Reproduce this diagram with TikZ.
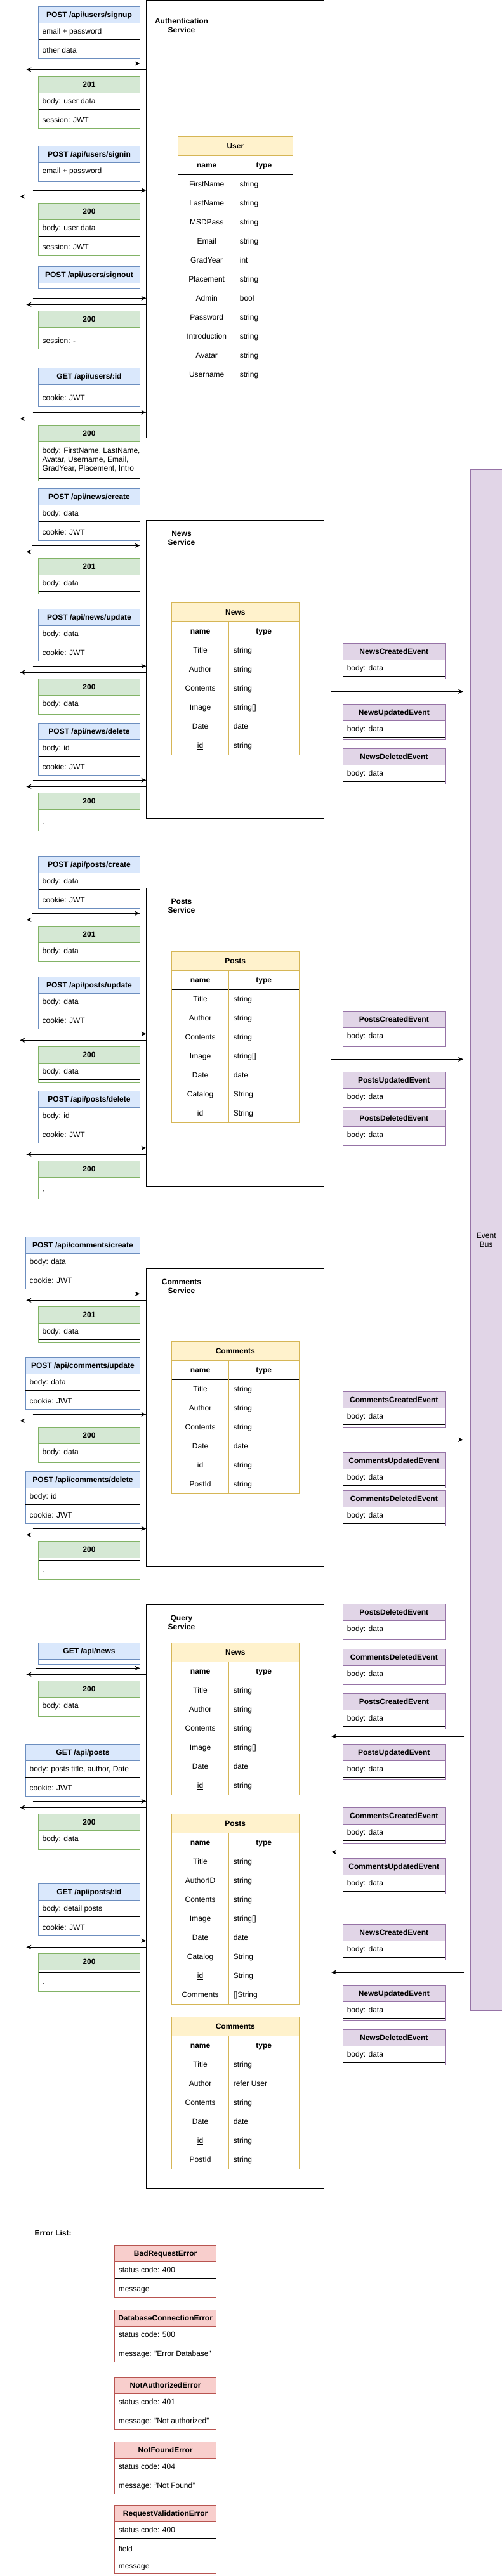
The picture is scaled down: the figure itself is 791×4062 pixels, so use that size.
\documentclass[tikz,border=0pt]{standalone}
\usepackage{fontspec}
\setmainfont{Liberation Sans}
\usepackage{xcolor}
\usepackage{tikz}
\usetikzlibrary{positioning,arrows.meta,calc}
\definecolor{reqfill}{HTML}{DAE8FC}
\definecolor{reqdraw}{HTML}{6C8EBF}
\definecolor{resfill}{HTML}{D5E8D4}
\definecolor{resdraw}{HTML}{82B366}
\definecolor{tabfill}{HTML}{FFF2CC}
\definecolor{tabdraw}{HTML}{D6B656}
\definecolor{evtfill}{HTML}{E1D5E7}
\definecolor{evtdraw}{HTML}{9673A6}
\definecolor{errfill}{HTML}{F8CECC}
\definecolor{errdraw}{HTML}{B85450}

% box with a coloured title bar: name, x, y, width, height, kind, title
\newcommand{\apibox}[7]{%
  \node[boxframe,draw=#6draw,minimum width=#4pt,minimum height=#5pt] (#1) at (#2,#3) {};
  \node[boxhead,draw=#6draw,fill=#6fill,minimum width=#4pt] (#1-h) at (#1.north west) {#7};}
\newcommand{\boxrow}[3]{\node[rowtext] (#1-#2) at ($(#1.north west)+(6,#2)$) {#3};}
\newcommand{\rowline}[2]{\draw[sepline] ($(#1.north west)+(0,#2)$) -- ($(#1.north east)+(0,#2)$);}
\newcommand{\evtbox}[3]{\apibox{#1}{540.6}{#2}{160.4}{56}{evt}{#3}\boxrow{#1}{39}{body: data}\rowline{#1}{52}}
% table: name, x, y, width, rows, title
\newcommand{\dbtable}[6]{%
  \node[tabframe,minimum width=#4pt,minimum height={(60+30*#5)*1pt}] (#1) at (#2,#3) {};
  \node[tabhead,minimum width=#4pt] (#1-h) at (#1.north west) {#6};
  \node[tabcell,font=\fontsize{12}{14}\selectfont\bfseries] (#1-n) at ($(#1.north west)+(45,45)$) {name};
  \node[tabcell,font=\fontsize{12}{14}\selectfont\bfseries] (#1-t) at ($(#1.north west)+({45+#4/2},45)$) {type};
  \draw[sepline] ($(#1.north west)+(0,60)$) -- ($(#1.north east)+(0,60)$);
  \draw[coldiv] ($(#1.north west)+(90,30)$) -- ($(#1.south west)+(90,0)$);}
\newcommand{\dbrow}[4]{%
  \node[tabcell] (#1-f#2) at ($(#1.north west)+(45,{45+30*#2})$) {#3};
  \node[tabcell,anchor=west] (#1-v#2) at ($(#1.north west)+(97,{45+30*#2})$) {#4};}

\begin{document}
\begin{tikzpicture}[
  x=1pt,y=-1pt,
  every node/.style={font=\fontsize{12}{14}\selectfont},
  boxframe/.style={anchor=north west,fill=white,inner sep=0pt,outer sep=0pt,line width=1pt},
  boxhead/.style={anchor=north west,minimum height=26pt,inner sep=0pt,outer sep=0pt,line width=1pt,
    font=\fontsize{12}{14}\selectfont\bfseries,text height=9pt,text depth=1pt},
  rowtext/.style={anchor=west,inner sep=0pt,text height=9pt,text depth=1pt},
  sepline/.style={line width=1pt},
  svcbox/.style={draw,anchor=north west,minimum width=280pt,inner sep=0pt,outer sep=0pt,line width=1pt},
  svclabel/.style={align=center,font=\fontsize{12}{14}\selectfont\bfseries},
  tabframe/.style={draw=tabdraw,fill=white,anchor=north west,inner sep=0pt,outer sep=0pt,line width=1pt},
  tabhead/.style={draw=tabdraw,fill=tabfill,anchor=north west,minimum height=30pt,inner sep=0pt,outer sep=0pt,
    line width=1pt,font=\fontsize{12}{14}\selectfont\bfseries,text height=9pt,text depth=1pt},
  tabcell/.style={inner sep=0pt,text height=9pt,text depth=1pt},
  coldiv/.style={draw=tabdraw,line width=1pt},
  flow/.style={line width=1pt,-{Stealth[length=8pt,width=7pt,inset=2.5pt]}}
]
\useasboundingbox (0,0) rectangle (791,4062);

% event bus
\node[draw=evtdraw,fill=evtfill,anchor=north west,minimum width=49.5pt,minimum height=2430pt,
  inner sep=0pt,line width=1pt,align=center] (bus) at (741,740.3) {Event\\Bus};

% authentication service
\node[svcbox,minimum height=689pt] (auth) at (230.5,1) {};
\node[svclabel] (auth-l) at ($(auth.north west)+(55.5,39)$) {Authentication\\Service};
\dbtable{user}{280.7}{215.3}{180.3}{11}{User}
\dbrow{user}{1}{FirstName}{string}
\dbrow{user}{2}{LastName}{string}
\dbrow{user}{3}{MSDPass}{string}
\dbrow{user}{4}{\underline{Email}}{string}
\dbrow{user}{5}{GradYear}{int}
\dbrow{user}{6}{Placement}{string}
\dbrow{user}{7}{Admin}{bool}
\dbrow{user}{8}{Password}{string}
\dbrow{user}{9}{Introduction}{string}
\dbrow{user}{10}{Avatar}{string}
\dbrow{user}{11}{Username}{string}

\apibox{signup}{60.5}{10.7}{160}{82}{req}{POST /api/users/signup}
\boxrow{signup}{39}{email + password}
\rowline{signup}{52}
\boxrow{signup}{69}{other data}
\coordinate (signup-in) at (50.5,100);
\coordinate (signup-out) at (41.4,110);
\draw[flow] (signup-in) -- (signup-in -| signup.east);
\draw[flow] (signup-out -| auth.west) -- (signup-out);
\apibox{signupres}{60.5}{120.3}{160}{82}{res}{201}
\boxrow{signupres}{39}{body: user data}
\rowline{signupres}{52}
\boxrow{signupres}{69}{session: JWT}

\apibox{signin}{60.5}{230.3}{160}{56}{req}{POST /api/users/signin}
\boxrow{signin}{39}{email + password}
\rowline{signin}{52}
\coordinate (signin-in) at (51.5,300);
\coordinate (signin-out) at (31.3,310);
\draw[flow] (signin-in) -- (signin-in -| auth.west);
\draw[flow] (signin-out -| auth.west) -- (signin-out);
\apibox{signinres}{60.5}{320.3}{160}{82}{res}{200}
\boxrow{signinres}{39}{body: user data}
\rowline{signinres}{52}
\boxrow{signinres}{69}{session: JWT}

\apibox{signout}{60.5}{420.3}{160}{34}{req}{POST /api/users/signout}
\coordinate (signout-in) at (51.5,470.3);
\coordinate (signout-out) at (41.4,480.3);
\draw[flow] (signout-in) -- (signout-in -| auth.west);
\draw[flow] (signout-out -| auth.west) -- (signout-out);
\apibox{signoutres}{60.5}{490.3}{160}{60}{res}{200}
\rowline{signoutres}{30}
\boxrow{signoutres}{47}{session: -}

\apibox{getuser}{60.5}{580.3}{160}{60}{req}{GET /api/users/:id}
\rowline{getuser}{30}
\boxrow{getuser}{47}{cookie: JWT}
\coordinate (getuser-in) at (51.5,650.3);
\coordinate (getuser-out) at (31.3,660.3);
\draw[flow] (getuser-in) -- (getuser-in -| auth.west);
\draw[flow] (getuser-out -| auth.west) -- (getuser-out);
\apibox{getuserres}{60.5}{670.3}{160}{88}{res}{200}
\node[inner sep=0pt,anchor=north west,align=left] (getuserres-b) at ($(getuserres.north west)+(6,35)$)
  {body: FirstName, LastName,\\Avatar, Username, Email,\\GradYear, Placement, Intro};
\rowline{getuserres}{84}

% news service
\node[svcbox,minimum height=470pt] (news) at (230.5,820.3) {};
\node[svclabel] (news-l) at ($(news.north west)+(55.5,27.7)$) {News\\Service};
\dbtable{newstab}{270.6}{950.3}{200.4}{6}{News}
\dbrow{newstab}{1}{Title}{string}
\dbrow{newstab}{2}{Author}{string}
\dbrow{newstab}{3}{Contents}{string}
\dbrow{newstab}{4}{Image}{string[]}
\dbrow{newstab}{5}{Date}{date}
\dbrow{newstab}{6}{\underline{id}}{string}

\apibox{newscreate}{60.5}{770.3}{160}{82}{req}{POST /api/news/create}
\boxrow{newscreate}{39}{body: data}
\rowline{newscreate}{52}
\boxrow{newscreate}{69}{cookie: JWT}
\coordinate (newscreate-in) at (50.5,860.3);
\coordinate (newscreate-out) at (41.4,870.3);
\draw[flow] (newscreate-in) -- (newscreate-in -| newscreate.east);
\draw[flow] (newscreate-out -| news.west) -- (newscreate-out);
\apibox{newscreateres}{60.5}{880.3}{160}{56}{res}{201}
\boxrow{newscreateres}{39}{body: data}
\rowline{newscreateres}{52}

\apibox{newsupdate}{60.5}{960.3}{160}{82}{req}{POST /api/news/update}
\boxrow{newsupdate}{39}{body: data}
\rowline{newsupdate}{52}
\boxrow{newsupdate}{69}{cookie: JWT}
\coordinate (newsupdate-in) at (51.5,1050.3);
\coordinate (newsupdate-out) at (31.3,1060.3);
\draw[flow] (newsupdate-in) -- (newsupdate-in -| news.west);
\draw[flow] (newsupdate-out -| news.west) -- (newsupdate-out);
\apibox{newsupdateres}{60.5}{1070.3}{160}{56}{res}{200}
\boxrow{newsupdateres}{39}{body: data}
\rowline{newsupdateres}{52}

\apibox{newsdelete}{60.5}{1140.3}{160}{82}{req}{POST /api/news/delete}
\boxrow{newsdelete}{39}{body: id}
\rowline{newsdelete}{52}
\boxrow{newsdelete}{69}{cookie: JWT}
\coordinate (newsdelete-in) at (51.5,1230.3);
\coordinate (newsdelete-out) at (41.4,1240.3);
\draw[flow] (newsdelete-in) -- (newsdelete-in -| news.west);
\draw[flow] (newsdelete-out -| news.west) -- (newsdelete-out);
\apibox{newsdeleteres}{60.5}{1250.3}{160}{60}{res}{200}
\rowline{newsdeleteres}{30}
\boxrow{newsdeleteres}{47}{-}

\evtbox{newsadd}{1014.3}{NewsCreatedEvent}
\evtbox{newsupd}{1110.3}{NewsUpdatedEvent}
\evtbox{newsdel}{1180.3}{NewsDeletedEvent}
\coordinate (newsemit-a) at (521,1090.3);
\coordinate (newsemit-b) at (730,1090.3);
\draw[flow] (newsemit-a) -- (newsemit-b);

% posts service
\node[svcbox,minimum height=470pt] (posts) at (230.5,1400.3) {};
\node[svclabel] (posts-l) at ($(posts.north west)+(55.5,27.7)$) {Posts\\Service};
\dbtable{poststab}{270.6}{1500.3}{200.4}{7}{Posts}
\dbrow{poststab}{1}{Title}{string}
\dbrow{poststab}{2}{Author}{string}
\dbrow{poststab}{3}{Contents}{string}
\dbrow{poststab}{4}{Image}{string[]}
\dbrow{poststab}{5}{Date}{date}
\dbrow{poststab}{6}{Catalog}{String}
\dbrow{poststab}{7}{\underline{id}}{String}

\apibox{postscreate}{60.5}{1350.3}{160}{82}{req}{POST /api/posts/create}
\boxrow{postscreate}{39}{body: data}
\rowline{postscreate}{52}
\boxrow{postscreate}{69}{cookie: JWT}
\coordinate (postscreate-in) at (50.5,1440.3);
\coordinate (postscreate-out) at (41.4,1450.3);
\draw[flow] (postscreate-in) -- (postscreate-in -| postscreate.east);
\draw[flow] (postscreate-out -| posts.west) -- (postscreate-out);
\apibox{postscreateres}{60.5}{1460.3}{160}{56}{res}{201}
\boxrow{postscreateres}{39}{body: data}
\rowline{postscreateres}{52}

\apibox{postsupdate}{60.5}{1540.3}{160}{82}{req}{POST /api/posts/update}
\boxrow{postsupdate}{39}{body: data}
\rowline{postsupdate}{52}
\boxrow{postsupdate}{69}{cookie: JWT}
\coordinate (postsupdate-in) at (51.5,1630.3);
\coordinate (postsupdate-out) at (31.3,1640.3);
\draw[flow] (postsupdate-in) -- (postsupdate-in -| posts.west);
\draw[flow] (postsupdate-out -| posts.west) -- (postsupdate-out);
\apibox{postsupdateres}{60.5}{1650.3}{160}{56}{res}{200}
\boxrow{postsupdateres}{39}{body: data}
\rowline{postsupdateres}{52}

\apibox{postsdelete}{60.5}{1720.3}{160}{82}{req}{POST /api/posts/delete}
\boxrow{postsdelete}{39}{body: id}
\rowline{postsdelete}{52}
\boxrow{postsdelete}{69}{cookie: JWT}
\coordinate (postsdelete-in) at (51.5,1810.3);
\coordinate (postsdelete-out) at (41.4,1820.3);
\draw[flow] (postsdelete-in) -- (postsdelete-in -| posts.west);
\draw[flow] (postsdelete-out -| posts.west) -- (postsdelete-out);
\apibox{postsdeleteres}{60.5}{1830.3}{160}{60}{res}{200}
\rowline{postsdeleteres}{30}
\boxrow{postsdeleteres}{47}{-}

\evtbox{postsadd}{1594.3}{PostsCreatedEvent}
\evtbox{postsupd}{1690.3}{PostsUpdatedEvent}
\evtbox{postsdel}{1750.3}{PostsDeletedEvent}
\coordinate (postsemit-a) at (521,1670.3);
\coordinate (postsemit-b) at (730,1670.3);
\draw[flow] (postsemit-a) -- (postsemit-b);

% comments service
\node[svcbox,minimum height=470pt] (cmts) at (230.5,2000.3) {};
\node[svclabel] (cmts-l) at ($(cmts.north west)+(55.5,27.7)$) {Comments\\Service};
\dbtable{cmttab}{270.6}{2115.3}{200.4}{6}{Comments}
\dbrow{cmttab}{1}{Title}{string}
\dbrow{cmttab}{2}{Author}{string}
\dbrow{cmttab}{3}{Contents}{string}
\dbrow{cmttab}{4}{Date}{date}
\dbrow{cmttab}{5}{\underline{id}}{string}
\dbrow{cmttab}{6}{PostId}{string}

\apibox{cmtcreate}{40.4}{1950.3}{180.1}{82}{req}{POST /api/comments/create}
\boxrow{cmtcreate}{39}{body: data}
\rowline{cmtcreate}{52}
\boxrow{cmtcreate}{69}{cookie: JWT}
\coordinate (cmtcreate-in) at (50.5,2040.3);
\coordinate (cmtcreate-out) at (41.4,2050.3);
\draw[flow] (cmtcreate-in) -- (cmtcreate-in -| cmtcreate.east);
\draw[flow] (cmtcreate-out -| cmts.west) -- (cmtcreate-out);
\apibox{cmtcreateres}{60.5}{2060.3}{160}{56}{res}{201}
\boxrow{cmtcreateres}{39}{body: data}
\rowline{cmtcreateres}{52}

\apibox{cmtupdate}{40.4}{2140.3}{180.1}{82}{req}{POST /api/comments/update}
\boxrow{cmtupdate}{39}{body: data}
\rowline{cmtupdate}{52}
\boxrow{cmtupdate}{69}{cookie: JWT}
\coordinate (cmtupdate-in) at (51.5,2230.3);
\coordinate (cmtupdate-out) at (31.3,2240.3);
\draw[flow] (cmtupdate-in) -- (cmtupdate-in -| cmts.west);
\draw[flow] (cmtupdate-out -| cmts.west) -- (cmtupdate-out);
\apibox{cmtupdateres}{60.5}{2250.3}{160}{56}{res}{200}
\boxrow{cmtupdateres}{39}{body: data}
\rowline{cmtupdateres}{52}

\apibox{cmtdelete}{40.4}{2320.3}{180.1}{82}{req}{POST /api/comments/delete}
\boxrow{cmtdelete}{39}{body: id}
\rowline{cmtdelete}{52}
\boxrow{cmtdelete}{69}{cookie: JWT}
\coordinate (cmtdelete-in) at (51.5,2410.3);
\coordinate (cmtdelete-out) at (41.4,2420.3);
\draw[flow] (cmtdelete-in) -- (cmtdelete-in -| cmts.west);
\draw[flow] (cmtdelete-out -| cmts.west) -- (cmtdelete-out);
\apibox{cmtdeleteres}{60.5}{2430.3}{160}{60}{res}{200}
\rowline{cmtdeleteres}{30}
\boxrow{cmtdeleteres}{47}{-}

\evtbox{cmtadd}{2194.3}{CommentsCreatedEvent}
\evtbox{cmtupd}{2290.3}{CommentsUpdatedEvent}
\evtbox{cmtdel}{2350.3}{CommentsDeletedEvent}
\coordinate (cmtemit-a) at (521,2270.3);
\coordinate (cmtemit-b) at (730,2270.3);
\draw[flow] (cmtemit-a) -- (cmtemit-b);

% query service
\node[svcbox,minimum height=920pt] (query) at (230.5,2530.3) {};
\node[svclabel] (query-l) at ($(query.north west)+(55.5,27.7)$) {Query\\Service};
\dbtable{qnewstab}{270.6}{2590.3}{200.4}{6}{News}
\dbrow{qnewstab}{1}{Title}{string}
\dbrow{qnewstab}{2}{Author}{string}
\dbrow{qnewstab}{3}{Contents}{string}
\dbrow{qnewstab}{4}{Image}{string[]}
\dbrow{qnewstab}{5}{Date}{date}
\dbrow{qnewstab}{6}{\underline{id}}{string}
\dbtable{qpoststab}{270.6}{2860.3}{200.4}{8}{Posts}
\dbrow{qpoststab}{1}{Title}{string}
\dbrow{qpoststab}{2}{AuthorID}{string}
\dbrow{qpoststab}{3}{Contents}{string}
\dbrow{qpoststab}{4}{Image}{string[]}
\dbrow{qpoststab}{5}{Date}{date}
\dbrow{qpoststab}{6}{Catalog}{String}
\dbrow{qpoststab}{7}{\underline{id}}{String}
\dbrow{qpoststab}{8}{Comments}{[]String}
\dbtable{qcmttab}{270.6}{3180.3}{200.4}{6}{Comments}
\dbrow{qcmttab}{1}{Title}{string}
\dbrow{qcmttab}{2}{Author}{refer User}
\dbrow{qcmttab}{3}{Contents}{string}
\dbrow{qcmttab}{4}{Date}{date}
\dbrow{qcmttab}{5}{\underline{id}}{string}
\dbrow{qcmttab}{6}{PostId}{string}

\apibox{getnews}{60.5}{2590.3}{160}{34}{req}{GET /api/news}
\rowline{getnews}{30}
\coordinate (getnews-in) at (55.5,2630.3);
\coordinate (getnews-out) at (41.4,2640.3);
\draw[flow] (getnews-in) -- (getnews-in -| getnews.east);
\draw[flow] (getnews-out -| query.west) -- (getnews-out);
\apibox{getnewsres}{60.5}{2650.3}{160}{56}{res}{200}
\boxrow{getnewsres}{39}{body: data}
\rowline{getnewsres}{52}

\apibox{getposts}{40.4}{2750.3}{180.1}{82}{req}{GET /api/posts}
\boxrow{getposts}{39}{body: posts title, author, Date}
\rowline{getposts}{52}
\boxrow{getposts}{69}{cookie: JWT}
\coordinate (getposts-in) at (51.5,2840.3);
\coordinate (getposts-out) at (31.3,2850.3);
\draw[flow] (getposts-in) -- (getposts-in -| query.west);
\draw[flow] (getposts-out -| query.west) -- (getposts-out);
\apibox{getpostsres}{60.5}{2860.3}{160}{56}{res}{200}
\boxrow{getpostsres}{39}{body: data}
\rowline{getpostsres}{52}

\apibox{getpost}{60.5}{2970.3}{160}{82}{req}{GET /api/posts/:id}
\boxrow{getpost}{39}{body: detail posts}
\rowline{getpost}{52}
\boxrow{getpost}{69}{cookie: JWT}
\coordinate (getpost-in) at (51.5,3060.3);
\coordinate (getpost-out) at (41.4,3070.3);
\draw[flow] (getpost-in) -- (getpost-in -| query.west);
\draw[flow] (getpost-out -| query.west) -- (getpost-out);
\apibox{getpostres}{60.5}{3080.3}{160}{60}{res}{200}
\rowline{getpostres}{30}
\boxrow{getpostres}{47}{-}

\evtbox{qpostsdel}{2529.3}{PostsDeletedEvent}
\evtbox{qcmtdel}{2600.3}{CommentsDeletedEvent}
\evtbox{qpostsadd}{2670.3}{PostsCreatedEvent}
\evtbox{qpostsupd}{2750.3}{PostsUpdatedEvent}
\evtbox{qcmtadd}{2850.3}{CommentsCreatedEvent}
\evtbox{qcmtupd}{2930.3}{CommentsUpdatedEvent}
\evtbox{qnewsadd}{3034.3}{NewsCreatedEvent}
\evtbox{qnewsupd}{3130.3}{NewsUpdatedEvent}
\evtbox{qnewsdel}{3200.3}{NewsDeletedEvent}
\coordinate (qpostsfeed-a) at (731,2738);
\coordinate (qpostsfeed-b) at (522,2738);
\coordinate (qcmtfeed-a) at (731,2920.3);
\coordinate (qcmtfeed-b) at (522,2920.3);
\coordinate (qnewsfeed-a) at (731,3110);
\coordinate (qnewsfeed-b) at (522,3110);
\draw[flow] (qpostsfeed-a) -- (qpostsfeed-b);
\draw[flow] (qcmtfeed-a) -- (qcmtfeed-b);
\draw[flow] (qnewsfeed-a) -- (qnewsfeed-b);

% error list
\node[anchor=west,inner sep=0pt,font=\fontsize{12}{14}\selectfont\bfseries] (errlist) at (54.5,3520.7) {Error List:};
\apibox{badreq}{180.6}{3540.3}{160}{82}{err}{BadRequestError}
\boxrow{badreq}{39}{status code: 400}
\rowline{badreq}{52}
\boxrow{badreq}{69}{message}
\apibox{dbconn}{180.6}{3642.3}{160}{82}{err}{DatabaseConnectionError}
\boxrow{dbconn}{39}{status code: 500}
\rowline{dbconn}{52}
\boxrow{dbconn}{69}{message: "Error Database"}
\apibox{notauth}{180.6}{3748.3}{160}{82}{err}{NotAuthorizedError}
\boxrow{notauth}{39}{status code: 401}
\rowline{notauth}{52}
\boxrow{notauth}{69}{message: "Not authorized"}
\apibox{notfound}{180.6}{3850.3}{160}{82}{err}{NotFoundError}
\boxrow{notfound}{39}{status code: 404}
\rowline{notfound}{52}
\boxrow{notfound}{69}{message: "Not Found"}
\apibox{reqvalid}{180.6}{3950.3}{160}{108}{err}{RequestValidationError}
\boxrow{reqvalid}{39}{status code: 400}
\rowline{reqvalid}{52}
\boxrow{reqvalid}{69}{field}
\boxrow{reqvalid}{96}{message}
\end{tikzpicture}
\end{document}
